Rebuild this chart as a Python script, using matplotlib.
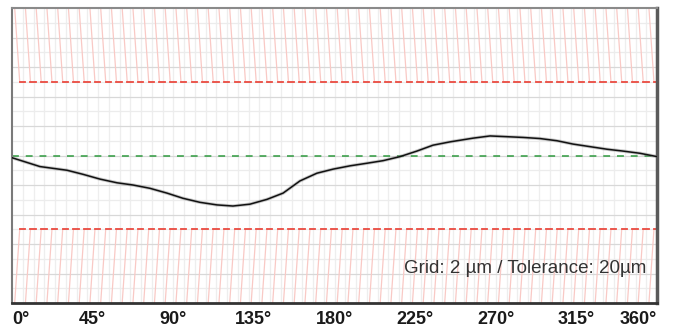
import numpy as np
import matplotlib.pyplot as plt

# profile: angle (deg) vs deviation (um)
angle_deg = [0, 15.6, 30.7, 39.6, 49.1, 58.6, 67.5, 77.0, 86.5, 95.4, 104.9,
             114.4, 123.3, 132.8, 142.3, 151.3, 160.7, 170.2, 179.2, 188.7,
             198.1, 207.1, 216.6, 226.0, 235.0, 244.5, 257.3, 266.8, 276.3,
             285.2, 294.7, 304.2, 313.1, 322.6, 332.1, 341.0, 350.5, 360]
deviation_um = [-0.3, -1.5, -2.0, -2.55, -3.2, -3.7, -4.0, -4.45, -5.1, -5.8, -6.35,
                -6.7, -6.85, -6.6, -5.95, -5.1, -3.45, -2.4, -1.85, -1.4,
                -1.05, -0.7, -0.15, 0.6, 1.4, 1.85, 2.35, 2.65, 2.55,
                2.45, 2.3, 2.0, 1.55, 1.2, 0.85, 0.6, 0.3, -0.15]

tick_deg = [0, 45, 90, 135, 180, 225, 270, 315, 360]
tick_labels = ["0°", "45°", "90°", "135°", "180°", "225°", "270°", "315°", "360°"]

grid_um = 2
tolerance_um = 20
y_lim = 20

fig = plt.figure(figsize=(6.77, 3.30), dpi=100)
ax = fig.add_axes([12/677, 27/330, 645/677, 295/330])
ax.set_xlim(0, 360)
ax.set_ylim(-y_lim, y_lim)

# grid
for x in np.arange(6, 360, 6):
    ax.axvline(x, color='#eeeeee', lw=0.9, zorder=0)
for y in np.arange(-y_lim + grid_um, y_lim, grid_um):
    c = '#d8d8d8' if y % 4 == 0 else '#ececec'
    ax.axhline(y, color=c, lw=0.9, zorder=0)

# tolerance bands with slanted hatching
half = tolerance_um / 2
shift = 2.8
for x0 in np.arange(1.5, 360, 6):
    ax.plot([x0, x0 + shift], [y_lim, half], color='#f9c9c5', lw=0.9, zorder=1)
    ax.plot([x0, x0 + shift], [-y_lim, -half], color='#f9c9c5', lw=0.9, zorder=1)
    ax.plot([x0 + shift, x0 + shift + 3.0], [half, half], color='#ea4a40', lw=1.3, zorder=2)
    ax.plot([x0 + shift, x0 + shift + 3.0], [-half, -half], color='#ea4a40', lw=1.3, zorder=2)

# nominal line
ax.axhline(0, color='#2f9a3f', lw=1.1, dashes=(4.5, 4.5), zorder=2)

# measured profile
ax.plot(angle_deg, deviation_um, color='#888888', lw=2.4, alpha=0.45, zorder=3)
ax.plot(angle_deg, deviation_um, color='#111111', lw=1.1, zorder=4)

ax.text(354, -15.3, "Grid: %d µm / Tolerance: %dµm" % (grid_um, tolerance_um),
        ha='right', va='center', fontsize=13.5, color='#333333',
        family='Liberation Sans')

# axis frame
ax.spines['top'].set_color('#8a8a8a')
ax.spines['top'].set_linewidth(1.5)
ax.spines['left'].set_color('#7a7a7a')
ax.spines['left'].set_linewidth(1.5)
ax.spines['right'].set_color('#5a5a5a')
ax.spines['right'].set_linewidth(2.5)
ax.spines['bottom'].set_color('#333333')
ax.spines['bottom'].set_linewidth(2.0)

ax.set_yticks([])
ax.set_xticks([])
for d, lab in zip(tick_deg, tick_labels):
    ha = 'left' if d == 0 else ('right' if d == 360 else 'center')
    ax.text(d, -21.1, lab, ha=ha, va='top', fontsize=13, fontweight='heavy',
            color='#1a1a1a', family='Liberation Sans')

fig.savefig('out.png', dpi=100)
